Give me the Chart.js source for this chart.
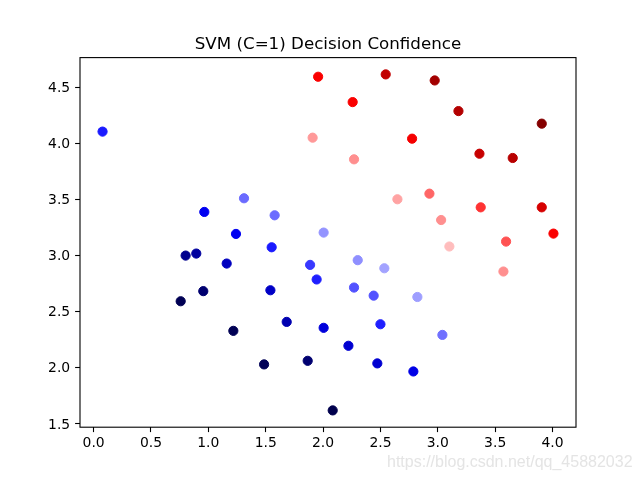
<!DOCTYPE html>
<html>
<head>
<meta charset="utf-8">
<script src="https://cdn.jsdelivr.net/npm/chart.js@4/dist/chart.umd.min.js"></script>
<style>
    html, body { margin: 0; padding: 0; background: #fff; }
    #wrap { width: 640px; height: 480px; }
</style>
</head>
<body>
<div id="wrap"><canvas id="chart" width="640" height="480"></canvas></div>
<script>
// Point coordinates
const xs = [1.957, 0.078, 1.909, 1.311, 0.965, 1.578, 1.241, 2.005, 1.552, 2.546,
            2.973, 2.258, 3.180, 3.906, 2.776, 3.363, 3.653, 2.270, 2.927, 2.648,
            3.374, 3.906, 3.029, 4.008, 3.595, 3.101, 3.572, 2.302, 2.534, 2.270,
            2.441, 2.822, 2.500, 3.040, 2.221, 2.473, 2.787, 2.084, 0.802, 0.895,
            1.160, 1.887, 1.944, 0.956, 0.759, 1.541, 1.683, 1.218, 2.005, 1.866,
            1.486];
const ys = [4.595, 4.106, 4.052, 3.512, 3.390, 3.360, 3.194, 3.206, 3.075, 4.616,
            4.562, 4.369, 4.289, 4.177, 4.043, 3.909, 3.871, 3.859, 3.553, 3.503,
            3.431, 3.431, 3.318, 3.197, 3.126, 3.082, 2.859, 2.960, 2.888, 2.716,
            2.644, 2.632, 2.389, 2.294, 2.197, 2.040, 1.968, 1.621, 3.001, 3.019,
            2.930, 2.918, 2.788, 2.684, 2.594, 2.692, 2.410, 2.330, 2.357, 2.063,
            2.031];
// Confidence, as position on the seismic colour map (0 = dark blue, 1 = dark red)
const confidence = [0.76, 0.275, 0.60, 0.355, 0.23, 0.355, 0.23, 0.395, 0.275, 0.87,
                    0.93, 0.76, 0.90, 0.99, 0.77, 0.86, 0.89, 0.61, 0.65, 0.59,
                    0.70, 0.83, 0.61, 0.76, 0.67, 0.565, 0.61, 0.39, 0.41, 0.33,
                    0.33, 0.405, 0.28, 0.36, 0.185, 0.185, 0.215, 0.0, 0.09, 0.115,
                    0.16, 0.305, 0.28, 0.05, 0.01, 0.17, 0.14, 0.01, 0.20, 0.05,
                    0.015];

const xTicks = [0.0, 0.5, 1.0, 1.5, 2.0, 2.5, 3.0, 3.5, 4.0];
const yTicks = [1.5, 2.0, 2.5, 3.0, 3.5, 4.0, 4.5];

const titleText = 'SVM (C=1) Decision Confidence';
const watermark = 'https://blog.csdn.net/qq_45882032';

// matplotlib "seismic" colormap
function seismic(t) {
    const stops = [[0, 0, 0, 0.3], [0.25, 0, 0, 1], [0.5, 1, 1, 1], [0.75, 1, 0, 0], [1, 0.5, 0, 0]];
    t = Math.min(1, Math.max(0, t));
    for (let i = 0; i < stops.length - 1; i++) {
        const a = stops[i], b = stops[i + 1];
        if (t <= b[0]) {
            const f = (t - a[0]) / (b[0] - a[0]);
            const c = [1, 2, 3].map(k => Math.round(255 * (a[k] + (b[k] - a[k]) * f)));
            return `rgb(${c[0]},${c[1]},${c[2]})`;
        }
    }
    return 'rgb(128,0,0)';
}

// axis limits with matplotlib's 5% margins
function padRange(arr) {
    const lo = Math.min(...arr), hi = Math.max(...arr);
    const m = (hi - lo) * 0.05;
    return [lo - m, hi + m];
}
const [xMin, xMax] = padRange(xs);
const [yMin, yMax] = padRange(ys);

const colors = confidence.map(seismic);
const points = xs.map((x, i) => ({ x: x, y: ys[i] }));

// frame, title and watermark
const extras = {
    id: 'extras',
    afterDraw(chart) {
        const ctx = chart.ctx;
        const a = chart.chartArea;
        ctx.save();
        ctx.strokeStyle = '#000';
        ctx.lineWidth = 1.1;
        ctx.strokeRect(a.left, a.top, a.right - a.left, a.bottom - a.top);

        ctx.fillStyle = '#000';
        ctx.font = '16.7px "DejaVu Sans"';
        ctx.textAlign = 'center';
        ctx.textBaseline = 'alphabetic';
        ctx.fillText(titleText, (a.left + a.right) / 2, a.top - 8.3);

        ctx.font = '16px "Liberation Sans"';
        ctx.textAlign = 'left';
        ctx.fillStyle = 'rgba(225,225,225,0.9)';
        ctx.fillText(watermark, 387, 467);
        ctx.restore();
    }
};

const tickFont = { family: 'DejaVu Sans', size: 13.9 };

new Chart(document.getElementById('chart'), {
    type: 'scatter',
    data: {
        datasets: [{
            data: points,
            pointBackgroundColor: colors,
            pointBorderColor: colors,
            pointBorderWidth: 1,
            pointRadius: 4.6,
            pointHoverRadius: 4.6
        }]
    },
    options: {
        responsive: false,
        animation: false,
        devicePixelRatio: 1,
        layout: { padding: { top: 57.6, right: 64, left: 0, bottom: 0 } },
        plugins: {
            legend: { display: false },
            tooltip: { enabled: false },
            title: { display: false }
        },
        scales: {
            x: {
                type: 'linear',
                min: xMin,
                max: xMax,
                afterBuildTicks: s => { s.ticks = xTicks.map(v => ({ value: v })); },
                afterFit: s => { s.height = 480 - 427.2; },
                grid: { drawOnChartArea: false, tickLength: 4.9, tickColor: '#000', tickWidth: 1.1 },
                border: { display: false },
                ticks: { color: '#000', font: tickFont, padding: 3, maxRotation: 0,
                         callback: v => v.toFixed(1) }
            },
            y: {
                type: 'linear',
                min: yMin,
                max: yMax,
                afterBuildTicks: s => { s.ticks = yTicks.map(v => ({ value: v })); },
                afterFit: s => { s.width = 80; },
                grid: { drawOnChartArea: false, tickLength: 4.9, tickColor: '#000', tickWidth: 1.1 },
                border: { display: false },
                ticks: { color: '#000', font: tickFont, padding: 4.9, labelOffset: 1,
                         callback: v => v.toFixed(1) }
            }
        }
    },
    plugins: [extras]
});
</script>
</body>
</html>
